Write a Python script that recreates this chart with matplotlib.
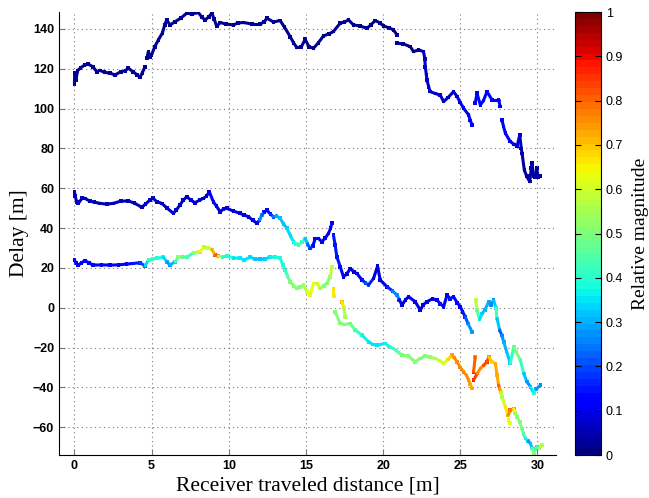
import numpy as np
import matplotlib
matplotlib.use("Agg")
import matplotlib.pyplot as plt
from matplotlib.collections import LineCollection
from matplotlib.colors import Normalize
from matplotlib.cm import ScalarMappable

# (distance [m], delay [m], relative magnitude); None = break in the trace
track1 = [
    (0.0, 112.5, 0.03), (0.02, 118, 0.03), (0.1, 114.5, 0.03), (0.2, 119, 0.03), (0.4, 120.5, 0.03),
    (0.65, 121.8, 0.03), (0.9, 122.3, 0.03), (1.2, 121, 0.03), (1.45, 118.5, 0.03), (1.65, 119.2, 0.03),
    (1.95, 118.2, 0.03), (2.3, 117.8, 0.03), (2.63, 116.9, 0.03), (3.0, 118.5, 0.03), (3.3, 119, 0.03),
    (3.49, 120.3, 0.03), (3.8, 118.5, 0.03), (4.05, 117, 0.03), (4.25, 115.7, 0.03), (4.4, 118, 0.03),
    (4.57, 121, 0.03), None,
    (4.7, 125.5, 0.03), (4.79, 128.6, 0.03), (4.9, 126, 0.03), (5.0, 127, 0.03), (5.2, 131, 0.03),
    (5.44, 134.5, 0.03), (5.7, 138, 0.03), (5.85, 142, 0.03), (5.98, 144.5, 0.03), (6.19, 142, 0.03),
    (6.5, 143.5, 0.03), (6.9, 145.5, 0.03), (7.28, 147.9, 0.03), (7.6, 147.5, 0.03), (8.03, 148.2, 0.03),
    (8.25, 146, 0.03), (8.46, 144.5, 0.03), (8.7, 146, 0.03), (8.9, 147.9, 0.03), (9.05, 145, 0.03),
    (9.22, 141.2, 0.03), (9.44, 143.2, 0.03), (9.8, 142.5, 0.03), (10.3, 142, 0.03), (10.6, 143, 0.03),
    (10.95, 143.2, 0.03), (11.5, 142.5, 0.03), (12.03, 142.5, 0.03), (12.3, 143.5, 0.03), (12.46, 145.4, 0.03),
    (12.9, 143.5, 0.03), (13.33, 144.2, 0.03), (13.6, 141, 0.03), (13.98, 136.1, 0.03), (14.2, 133, 0.03),
    (14.41, 130.6, 0.03), (14.7, 131, 0.03), (14.95, 134.8, 0.03), (15.2, 131, 0.03), (15.49, 130.3, 0.03),
    (15.81, 133.1, 0.03), (16.13, 136.5, 0.03), (16.5, 137.5, 0.03), (16.78, 138.7, 0.03), (17.22, 142.9, 0.03),
    (17.5, 143.5, 0.03), (17.76, 144.5, 0.03), (18.08, 142, 0.03), (18.5, 141.5, 0.03), (18.95, 140.3, 0.03),
    (19.2, 142, 0.03), (19.49, 144.2, 0.03), (19.8, 143, 0.03), (20.03, 141.5, 0.03), (20.4, 140.5, 0.03),
    (20.67, 139.5, 0.03), (20.9, 137, 0.03), None,
    (20.9, 132.8, 0.03), (21.3, 132.5, 0.03), (21.76, 131.1, 0.03), (21.97, 128.6, 0.03), (22.3, 129.5, 0.03),
    (22.62, 128.6, 0.04), (22.7, 125, 0.06),
    (22.73, 121, 0.07), (22.8, 117, 0.07), (22.84, 114.4, 0.07), (22.95, 111, 0.07), (23.05, 108.5, 0.07),
    (23.4, 107.5, 0.07), (23.7, 106.8, 0.07), (23.92, 103.5, 0.07), (24.2, 105.5, 0.07), (24.56, 108.5, 0.07),
    (24.8, 106, 0.07), (25.0, 103, 0.09), (25.21, 100.2, 0.1), (25.54, 96.8, 0.12), (25.65, 94, 0.12),
    (25.76, 91.8, 0.13), None,
    (25.97, 102.7, 0.13), (26.08, 107.7, 0.12), (26.3, 101.8, 0.13), (26.5, 104, 0.12), (26.73, 108.5, 0.12),
    (27.06, 104.3, 0.12), (27.48, 104.3, 0.12), (27.59, 101, 0.13), None,
    (27.7, 94.3, 0.13), (27.8, 91, 0.13), (27.92, 87.6, 0.12), (28.24, 83.4, 0.1), (28.5, 82, 0.1),
    (28.68, 81.2, 0.08), (28.85, 86.7, 0.08), (28.95, 80, 0.06), (29.0, 77.5, 0.04), (29.15, 69.1, 0.04),
    (29.3, 66, 0.04), (29.5, 63.3, 0.04), (29.6, 70, 0.04), (29.65, 72.5, 0.04), (29.75, 66, 0.04),
    (29.86, 65.8, 0.04), (29.95, 70, 0.04), (30.05, 65.5, 0.04), (30.19, 66.1, 0.04),
]

track2 = [
    (0.0, 58.2, 0.06), (0.05, 56, 0.06), (0.15, 53, 0.06), (0.25, 52.4, 0.06), (0.5, 55, 0.06),
    (0.68, 54.9, 0.06), (1.0, 53.5, 0.06), (1.3, 53, 0.06), (1.65, 52.4, 0.06), (2.1, 52, 0.06),
    (2.52, 52.4, 0.06), (3.0, 53.5, 0.06), (3.49, 53.6, 0.06), (3.9, 52.5, 0.06), (4.36, 50.4, 0.06),
    (4.6, 52, 0.06), (4.9, 54.1, 0.07), (5.1, 55, 0.07), (5.33, 53.2, 0.07), (5.66, 52.4, 0.07),
    (6.0, 50, 0.07), (6.41, 47.4, 0.07), (6.6, 49, 0.07), (6.84, 51.6, 0.07), (7.05, 54, 0.07),
    (7.28, 55.7, 0.07), (7.55, 54, 0.07), (7.81, 52.7, 0.07), (8.1, 54, 0.07), (8.35, 54.9, 0.07),
    (8.55, 56, 0.07), (8.74, 58.2, 0.07), (9.0, 53.2, 0.15), (9.2, 51, 0.1), (9.44, 48.2, 0.08),
    (9.65, 49.5, 0.08), (9.87, 49.9, 0.08), (10.3, 48.5, 0.08), (10.73, 47.4, 0.08), (11.0, 46.5, 0.08),
    (11.27, 45.7, 0.08), (11.55, 44, 0.08), (11.82, 42.4, 0.08), (12.0, 44, 0.2), (12.14, 46.5, 0.3),
    (12.3, 48, 0.15), (12.46, 49, 0.1), (12.7, 47, 0.15), (12.89, 45.7, 0.2), (13.1, 46, 0.3),
    (13.33, 44.9, 0.32), (13.55, 42, 0.32), (13.76, 39.9, 0.33), (14.0, 36, 0.35), (14.19, 33.1, 0.35),
    (14.35, 32, 0.42), (14.51, 31.5, 0.45), (14.75, 33, 0.42), (14.95, 34.8, 0.4), (15.1, 32, 0.25),
    (15.27, 29.8, 0.2), (15.45, 31, 0.15), (15.6, 34.8, 0.12), (15.81, 34.8, 0.1), (16.03, 33.1, 0.1),
    (16.25, 35, 0.1), (16.46, 37.3, 0.1), (16.6, 40, 0.1), (16.68, 42.4, 0.12), None,
    (16.78, 36.5, 0.15), (16.89, 31.5, 0.15), (17.0, 25.6, 0.15), (17.22, 20.6, 0.15), (17.43, 15.5, 0.1),
    (17.65, 17, 0.08), (17.87, 19.7, 0.08), (18.1, 18, 0.08), (18.3, 17.2, 0.08), (18.63, 13.9, 0.12),
    (18.85, 12.5, 0.18), (19.05, 11.4, 0.25), (19.38, 14.7, 0.08), (19.64, 20.9, 0.08), (19.81, 13.9, 0.08),
    (20.25, 10.5, 0.12), (20.6, 8.5, 0.2), (20.9, 6.3, 0.3), (21.05, 4, 0.2), (21.22, 1.3, 0.08),
    (21.45, 4, 0.08), (21.65, 5.5, 0.08), (22.08, 3.0, 0.1), (22.41, -1.2, 0.1), (22.6, 1.5, 0.08),
    (22.84, 3.0, 0.08), (23.2, 4.5, 0.1), (23.49, 3.8, 0.1), (23.7, 2, 0.15), (23.92, 0.5, 0.15),
    (24.14, 6.3, 0.1), (24.35, 4.5, 0.15), (24.56, 5.5, 0.15), (24.8, 2.5, 0.12), (25.0, 0.5, 0.12),
    (25.15, -2, 0.12), (25.32, -4.6, 0.18), (25.5, -8, 0.25), (25.76, -12.1, 0.3), None,
    (26.0, 3.8, 0.6), (26.08, -1.2, 0.55), (26.25, -6, 0.35), (26.41, -2.9, 0.35), (26.6, -1, 0.3),
    (26.84, 3.0, 0.3), (27.0, 1.5, 0.28), (27.16, 3.8, 0.25), (27.3, 0, 0.4), (27.38, -5.4, 0.45),
    (27.55, -11.3, 0.2), (27.7, -14, 0.25), (27.81, -17.1, 0.3), (28.0, -22, 0.32), (28.24, -28, 0.32),
    (28.46, -19.6, 0.5), (28.6, -22, 0.5), (28.89, -26.3, 0.48), (29.11, -33, 0.35), (29.3, -37, 0.3),
    (29.54, -39.7, 0.25), (29.76, -43.1, 0.45), (29.9, -41, 0.3), (30.19, -38.9, 0.25),
]

track3 = [
    (0.0, 23.9, 0.13), (0.1, 22.5, 0.13), (0.25, 21.4, 0.13), (0.45, 22.5, 0.13), (0.68, 23.6, 0.13),
    (0.95, 22.5, 0.12), (1.22, 21.4, 0.11), (1.75, 21.5, 0.11), (2.3, 21.4, 0.11), (2.85, 21.5, 0.11),
    (3.38, 21.9, 0.12), (3.8, 22.2, 0.14), (4.25, 22.6, 0.16), (4.57, 20.9, 0.22), (4.79, 23.9, 0.45),
    (5.05, 24.5, 0.4), (5.33, 24.8, 0.4), (5.76, 25.3, 0.38), (6.0, 23, 0.3), (6.19, 21.4, 0.25),
    (6.52, 23.1, 0.35), (6.73, 25.3, 0.55), (7.0, 25.5, 0.45), (7.28, 25.3, 0.45), (7.71, 27.6, 0.4),
    (8.14, 28.1, 0.7), (8.4, 30.6, 0.55), (8.65, 30, 0.6), (8.9, 29.3, 0.6), (9.11, 26.4, 0.85),
    (9.33, 25.9, 0.75), (9.6, 25.5, 0.4), (9.87, 25.9, 0.4), (10.3, 25, 0.35), (10.73, 24.8, 0.35),
    (11.0, 24, 0.35), (11.38, 25.3, 0.35), (11.7, 24.5, 0.33), (12.03, 24.3, 0.3), (12.35, 24.5, 0.33),
    (12.68, 25.3, 0.35), (13.0, 25.5, 0.38), (13.33, 24.8, 0.4), (13.5, 21.5, 0.38), (13.65, 18.9, 0.38),
    (13.8, 16, 0.45), (13.98, 13.0, 0.5), (14.2, 11, 0.5), (14.41, 9.7, 0.5), (14.6, 10.5, 0.5),
    (14.84, 11.4, 0.5), (15.06, 8.0, 0.6), (15.27, 6.3, 0.65), (15.49, 12.2, 0.62), (15.71, 12.2, 0.62),
    (15.92, 9.7, 0.58), (16.15, 11, 0.5), (16.35, 12.2, 0.5), (16.57, 15.5, 0.52), (16.68, 20.6, 0.62), None,
    (16.78, 9.7, 0.72), (16.8, 5.8, 0.6), None,
    (17.33, 3.0, 0.72), (17.45, 0, 0.6), (17.54, -4.6, 0.55), None,
    (16.89, -2.1, 0.5), (17.22, -7.9, 0.5), (17.5, -8.5, 0.5), (17.87, -7.9, 0.5), (18.19, -11.3, 0.45),
    (18.63, -13.8, 0.38), (19.05, -17.1, 0.35), (19.35, -18.5, 0.35), (19.6, -18.8, 0.35), (20.14, -18.0, 0.35),
    (20.4, -19.5, 0.38), (20.67, -20.5, 0.4), (21.0, -22.5, 0.45), (21.22, -23.8, 0.5), (21.65, -24.3, 0.5),
    (21.9, -26, 0.5), (22.08, -27.2, 0.5), (22.4, -25.5, 0.5), (22.73, -24.3, 0.5), (23.05, -24.8, 0.52),
    (23.38, -25.5, 0.55), (23.65, -26.5, 0.58), (23.92, -28, 0.58), (24.2, -26, 0.65), (24.46, -23.8, 0.72),
    (24.6, -25, 0.75), (24.79, -27.2, 0.75), (25.0, -30, 0.75), (25.21, -32.2, 0.75), (25.4, -34, 0.75),
    (25.54, -36.4, 0.75), (25.65, -38.5, 0.72), (25.76, -40.6, 0.72), None,
    (25.86, -32.2, 0.88), (25.97, -24.7, 0.72), None,
    (25.86, -36.4, 0.9), (26.1, -33, 0.78), (26.3, -30.5, 0.75), (26.5, -29, 0.78), (26.73, -27.2, 0.88),
    (26.84, -24.7, 0.75), (27.06, -27.2, 0.65), (27.27, -28, 0.72), (27.38, -33.9, 0.72), (27.48, -38.9, 0.72),
    (27.55, -40.6, 0.88), (27.62, -42.5, 0.6), (27.7, -44.8, 0.55), (27.8, -47, 0.58), (27.92, -49.8, 0.62),
    (28.1, -54, 0.7), (28.24, -51.5, 0.8), (28.46, -50.7, 0.75), (28.55, -53, 0.55), (28.68, -54.8, 0.5),
    (28.85, -57.5, 0.5), (29.0, -60.7, 0.5), (29.1, -63.5, 0.45), (29.22, -65.7, 0.42), (29.4, -67, 0.3),
    (29.54, -68.2, 0.25), (29.65, -70.5, 0.4), (29.76, -73.2, 0.55), (29.85, -71, 0.45), (29.97, -69.9, 0.35),
    (30.1, -70.5, 0.5), (30.3, -69.0, 0.6), None,
    (28.13, -56.5, 0.65), (28.2, -58, 0.62),
]

x_ticks = [0, 5, 10, 15, 20, 25, 30]
y_ticks = [-60, -40, -20, 0, 20, 40, 60, 80, 100, 120, 140]
cb_ticks = [0, 0.1, 0.2, 0.3, 0.4, 0.5, 0.6, 0.7, 0.8, 0.9, 1]

cmap = plt.get_cmap("jet", 64)
norm = Normalize(0, 1)


def pieces(track):
    # split a track on None markers
    out, cur = [], []
    for p in track:
        if p is None:
            if cur:
                out.append(np.array(cur, dtype=float))
            cur = []
        else:
            cur.append(p)
    if cur:
        out.append(np.array(cur, dtype=float))
    return out


fig = plt.figure(figsize=(6.49, 4.98), dpi=100)
ax = fig.add_axes([0.0909, 0.0863, 0.7658, 0.8896])
cax = fig.add_axes([0.886, 0.0863, 0.040, 0.8896])

for track in (track1, track2, track3):
    for arr in pieces(track):
        xs, ys, ms = arr[:, 0], arr[:, 1], arr[:, 2]
        if len(arr) > 1:
            segs = np.stack([np.column_stack([xs[:-1], ys[:-1]]),
                             np.column_stack([xs[1:], ys[1:]])], axis=1)
            lc = LineCollection(segs, cmap=cmap, norm=norm, linewidths=2.2, capstyle="round")
            lc.set_array((ms[:-1] + ms[1:]) / 2)
            ax.add_collection(lc)
        ax.scatter(xs, ys, c=ms, cmap=cmap, norm=norm, s=7, marker="s", linewidths=0)

ax.set_xlim(-1.0, 31.2)
ax.set_ylim(-74, 148.5)
ax.set_xticks(x_ticks)
ax.set_yticks(y_ticks)
ax.grid(True, color="#777777", linestyle=(0, (1, 3)), linewidth=0.8)
for s in ("top", "right"):
    ax.spines[s].set_visible(False)
ax.tick_params(direction="in", length=4, color="#777777", labelsize=9)
for lab in ax.get_xticklabels() + ax.get_yticklabels():
    lab.set_fontfamily("Liberation Sans")
    lab.set_fontweight("bold")
ax.set_xlabel("Receiver traveled distance [m]", family="Liberation Serif", fontsize=15.5, labelpad=3)
ax.set_ylabel("Delay [m]", family="Liberation Serif", fontsize=15.5, labelpad=3)

sm = ScalarMappable(norm=norm, cmap=cmap)
cb = fig.colorbar(sm, cax=cax, ticks=cb_ticks)
cb.ax.tick_params(direction="in", length=4, labelsize=9, left=True, right=True)
cb.ax.set_yticklabels(["0", "0.1", "0.2", "0.3", "0.4", "0.5", "0.6", "0.7", "0.8", "0.9", "1"],
                      family="Liberation Sans")
cb.set_label("Relative magnitude", family="Liberation Serif", fontsize=14, labelpad=6)

fig.savefig("out.png", dpi=100)
